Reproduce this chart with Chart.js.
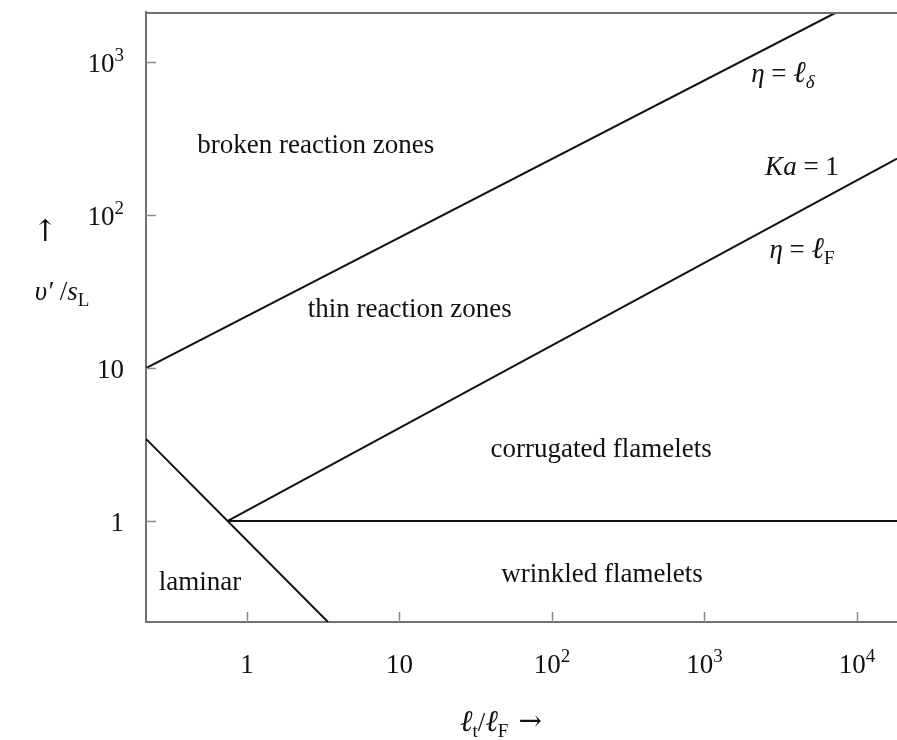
<!DOCTYPE html>
<html>
<head>
<meta charset="utf-8">
<script src="https://cdn.jsdelivr.net/npm/chart.js@4.4.0/dist/chart.umd.min.js"></script>
<style>
    html, body { margin: 0; padding: 0; background: #fff; }
    #wrap { width: 897px; height: 740px; }
</style>
</head>
<body>
<div id="wrap"><canvas id="regimeChart" width="897" height="740"></canvas></div>
<script>
// Axis ranges: lt/lF (x) and v'/sL (y)
const xRange = [0.218, 18300];
const yRange = [0.218, 2140];
const xTicks = [1, 10, 100, 1000, 10000];
const yTicks = [1, 10, 100, 1000];

// Regime boundaries
const etaDeltaX = [0.218, 7400];
const etaDeltaY = [10, 2140];
const kaOneX = [0.75, 18300];
const kaOneY = [1, 235];
const reOneX = [0.218, 3.40];
const reOneY = [3.44, 0.218];
const unityX = [0.75, 18300];
const unityY = [1, 1];

// Region names, anchored in data units (centre x, baseline y)
const regionNames = ['broken reaction zones', 'thin reaction zones', 'corrugated flamelets', 'wrinkled flamelets', 'laminar'];
const regionX = [2.83, 11.7, 210, 213, 0.492];
const regionY = [257, 21.7, 2.62, 0.398, 0.353];

// Line labels
const lineLabels = [
    [{ t: 'η', it: true }, { t: ' = ' }, { t: 'ℓ', it: true, big: true }, { t: 'δ', it: true, sub: true }],
    [{ t: 'Ka', it: true }, { t: ' = 1' }],
    [{ t: 'η', it: true }, { t: ' = ' }, { t: 'ℓ', it: true, big: true }, { t: 'F', sub: true }]
];
const lineLabelX = [3270, 4360, 4360];
const lineLabelY = [750, 184, 52.7];

const SERIF = '"Liberation Serif", "DejaVu Serif", serif';
const AXIS_GRAY = '#707070';

function toPoints(xs, ys) {
    return xs.map((x, i) => ({ x: x, y: ys[i] }));
}

function partFont(p) {
    if (p.arrow) return '28px "DejaVu Serif", serif';
    let size = (p.sub || p.sup) ? 19 : 27;
    if (p.big) size = 30;
    return (p.it ? 'italic ' : '') + size + 'px ' + SERIF;
}

function drawRich(ctx, parts, x, y, align) {
    const widths = parts.map(p => { ctx.font = partFont(p); return ctx.measureText(p.t).width + (p.gap || 0); });
    const total = widths.reduce((a, b) => a + b, 0);
    let cx = align === 'right' ? x - total : align === 'left' ? x : x - total / 2;
    ctx.textAlign = 'left';
    ctx.textBaseline = 'alphabetic';
    parts.forEach((p, i) => {
        ctx.font = partFont(p);
        let dy = 0;
        if (p.sub) dy = 6;
        if (p.sup) dy = -11;
        if (p.arrow) dy = -1;
        ctx.fillText(p.t, cx + (p.gap || 0), y + dy);
        cx += widths[i];
    });
}

function tickParts(v) {
    const e = Math.round(Math.log10(v));
    if (e === 0) return [{ t: '1' }];
    if (e === 1) return [{ t: '10' }];
    return [{ t: '10' }, { t: String(e), sup: true }];
}

const decorPlugin = {
    id: 'decor',
    afterDraw(chart) {
        const ctx = chart.ctx;
        const area = chart.chartArea;
        const xs = chart.scales.x;
        const ys = chart.scales.y;
        ctx.save();

        // top frame
        ctx.strokeStyle = AXIS_GRAY;
        ctx.lineWidth = 2;
        ctx.beginPath();
        ctx.moveTo(area.left, area.top + 1);
        ctx.lineTo(area.right, area.top + 1);
        ctx.stroke();

        // inward ticks
        ctx.strokeStyle = '#8a8a8a';
        ctx.lineWidth = 1.5;
        ctx.beginPath();
        xs.ticks.forEach(t => {
            const px = Math.round(xs.getPixelForValue(t.value)) + 0.5;
            ctx.moveTo(px, area.bottom);
            ctx.lineTo(px, area.bottom - 10);
        });
        ys.ticks.forEach(t => {
            const py = Math.round(ys.getPixelForValue(t.value)) + 0.5;
            ctx.moveTo(area.left, py);
            ctx.lineTo(area.left + 10, py);
        });
        ctx.stroke();

        // tick labels
        ctx.fillStyle = '#111';
        xs.ticks.forEach(t => {
            drawRich(ctx, tickParts(t.value), xs.getPixelForValue(t.value), area.bottom + 51, 'center');
        });
        ys.ticks.forEach(t => {
            drawRich(ctx, tickParts(t.value), area.left - 22, ys.getPixelForValue(t.value) + 10, 'right');
        });

        // region names
        regionNames.forEach((name, i) => {
            ctx.font = '27px ' + SERIF;
            ctx.textAlign = 'center';
            ctx.textBaseline = 'alphabetic';
            ctx.fillText(name, xs.getPixelForValue(regionX[i]), ys.getPixelForValue(regionY[i]));
        });

        // line labels
        lineLabels.forEach((parts, i) => {
            drawRich(ctx, parts, xs.getPixelForValue(lineLabelX[i]), ys.getPixelForValue(lineLabelY[i]), 'center');
        });

        // axis titles
        ctx.font = '30px "DejaVu Serif", serif';
        ctx.textAlign = 'center';
        ctx.fillText('↑', 45, 241);
        drawRich(ctx, [{ t: 'υ′', it: true }, { t: ' /' }, { t: 's', it: true }, { t: 'L', sub: true }], 62, 300, 'center');
        drawRich(ctx, [{ t: 'ℓ', it: true, big: true }, { t: 't', sub: true }, { t: '/' }, { t: 'ℓ', it: true, big: true },
            { t: 'F', sub: true }, { t: '→', arrow: true, gap: 10 }], 501, 731, 'center');

        ctx.restore();
    }
};

function lineSet(xs, ys) {
    return {
        data: toPoints(xs, ys),
        showLine: true,
        borderColor: '#111',
        borderWidth: 2,
        pointRadius: 0,
        fill: false
    };
}

new Chart(document.getElementById('regimeChart'), {
    type: 'scatter',
    data: {
        datasets: [
            lineSet(etaDeltaX, etaDeltaY),
            lineSet(kaOneX, kaOneY),
            lineSet(reOneX, reOneY),
            lineSet(unityX, unityY)
        ]
    },
    options: {
        responsive: false,
        animation: false,
        layout: { padding: { top: 12, right: 0, bottom: 0, left: 0 } },
        plugins: {
            legend: { display: false },
            tooltip: { enabled: false }
        },
        scales: {
            x: {
                type: 'logarithmic',
                position: 'bottom',
                min: xRange[0],
                max: xRange[1],
                grid: { display: false },
                border: { display: true, color: AXIS_GRAY, width: 2 },
                ticks: { display: false },
                afterBuildTicks: s => { s.ticks = xTicks.map(v => ({ value: v })); },
                afterFit: s => { s.height = 118; }
            },
            y: {
                type: 'logarithmic',
                position: 'left',
                min: yRange[0],
                max: yRange[1],
                grid: { display: false },
                border: { display: true, color: AXIS_GRAY, width: 2 },
                ticks: { display: false },
                afterBuildTicks: s => { s.ticks = yTicks.map(v => ({ value: v })); },
                afterFit: s => { s.width = 146; }
            }
        }
    },
    plugins: [decorPlugin]
});
</script>
</body>
</html>
